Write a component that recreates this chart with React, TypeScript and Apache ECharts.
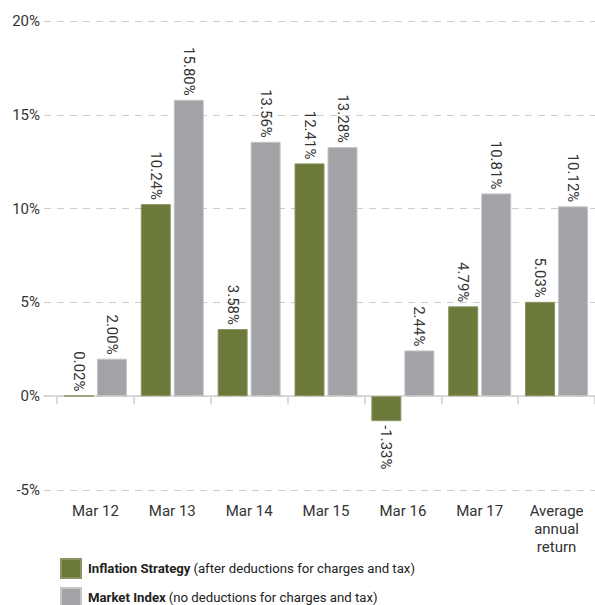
import React, { useEffect, useRef } from "react";
import * as echarts from "echarts";

const categories = ["Mar 12", "Mar 13", "Mar 14", "Mar 15", "Mar 16", "Mar 17", "Average\nannual\nreturn"];
const inflationStrategy = [0.02, 10.24, 3.58, 12.41, -1.33, 4.79, 5.03];
const marketIndex = [2.0, 15.8, 13.56, 13.28, 2.44, 10.81, 10.12];
const seriesNames = ["Inflation Strategy", "Market Index"];
const legendNotes = ["(after deductions for charges and tax)", "(no deductions for charges and tax)"];

const FONT = "Roboto, 'DejaVu Sans', sans-serif";
const GREEN = "#6b793b";
const GREY = "#a2a3a6";

export default function App() {
  const ref = useRef<HTMLDivElement>(null);
  useEffect(() => {
    const chart = echarts.init(ref.current!, null, { renderer: "svg" });
    const labelBase = {
      show: true,
      position: "top",
      rotate: -90,
      align: "right",
      verticalAlign: "middle",
      distance: 4,
      fontSize: 15,
      color: "#333",
      fontFamily: FONT,
      formatter: (p: any) => Number(p.value).toFixed(2) + "%",
    };
    const mkData = (arr: number[]) =>
      arr.map((v) =>
        v < 0
          ? { value: v, label: { position: "bottom", align: "left" } }
          : { value: v }
      );
    const mkLegend = (i: number, top: number) => ({
      orient: "vertical",
      left: 60,
      top,
      padding: 0,
      icon: "rect",
      itemWidth: 20,
      itemHeight: 19,
      itemGap: 0,
      data: [seriesNames[i]],
      formatter: (name: string) => `{b|${name}} {n|${legendNotes[i]}}`,
      textStyle: {
        padding: [0, 0, 0, 2],
        rich: {
          b: { fontSize: 13.2, fontWeight: "bold", color: "#222", fontFamily: FONT },
          n: { fontSize: 13.2, color: "#222", fontFamily: FONT },
        },
      },
    });
    chart.setOption({
      animation: false,
      textStyle: { fontFamily: FONT },
      grid: [
        { left: 44, right: 0, top: 21, bottom: 115 },
        { left: 57, right: -8, top: 21, bottom: 115 },
      ],
      xAxis: [
        {
          gridIndex: 0,
          type: "value",
          min: 0,
          max: 1,
          axisLine: { show: true, onZero: true, lineStyle: { color: "#cfcfcf", width: 1.5, type: "solid" } },
          axisTick: { show: false },
          axisLabel: { show: false },
          splitLine: { show: false },
        },
        {
          gridIndex: 1,
          type: "category",
          data: categories,
          axisLine: { show: false },
          axisTick: { show: true, length: 8, lineStyle: { color: "#cfcfcf", width: 1.5 } },
          axisLabel: { margin: 12, fontSize: 15, color: "#333", lineHeight: 18, fontFamily: FONT },
        },
      ],
      yAxis: [
        {
          gridIndex: 0,
          type: "value",
          min: -5,
          max: 20,
          interval: 5,
          axisLine: { show: false },
          axisTick: { show: false },
          axisLabel: { formatter: "{value}%", fontSize: 15, color: "#333", margin: 4, fontFamily: FONT },
          splitLine: { show: true, lineStyle: { color: "#cccccc", type: [7, 6], width: 1.2 } },
        },
        {
          gridIndex: 1,
          type: "value",
          min: -5,
          max: 20,
          interval: 5,
          show: false,
          splitLine: { show: false },
        },
      ],
      legend: [mkLegend(0, 558), mkLegend(1, 587)],
      series: [
        {
          name: seriesNames[0],
          type: "bar",
          xAxisIndex: 1,
          yAxisIndex: 1,
          data: mkData(inflationStrategy),
          barWidth: 30,
          barGap: "10%",
          itemStyle: { color: GREEN, borderColor: "#8b9563", borderWidth: 1 },
          label: labelBase,
        },
        {
          name: seriesNames[1],
          type: "bar",
          xAxisIndex: 1,
          yAxisIndex: 1,
          data: mkData(marketIndex),
          barWidth: 30,
          barGap: "10%",
          itemStyle: { color: GREY, borderColor: "#c4c5c7", borderWidth: 1 },
          label: labelBase,
        },
      ],
    });
    return () => chart.dispose();
  }, []);
  return (
    <div
      ref={ref}
      style={{ position: "fixed", left: 0, top: 0, width: 595, height: 605, background: "#fff" }}
    />
  );
}
